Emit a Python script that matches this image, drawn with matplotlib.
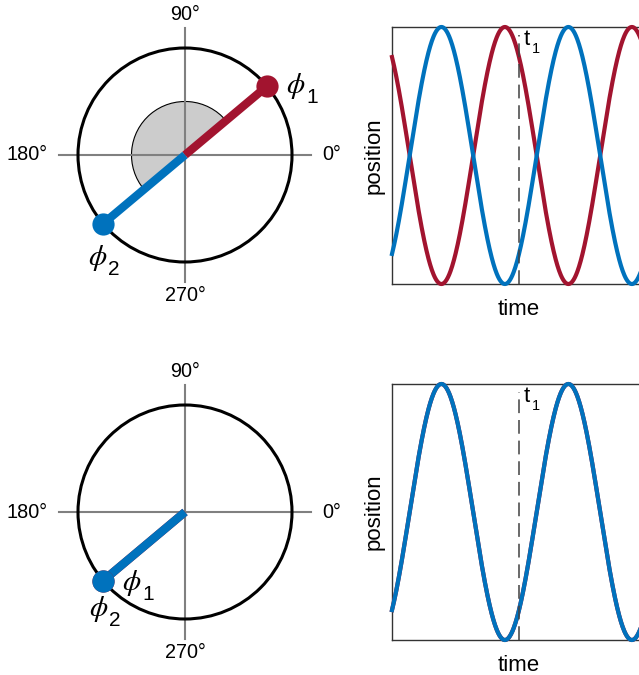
import numpy as np
import matplotlib
matplotlib.use("Agg")
import matplotlib.pyplot as plt
from matplotlib.patches import Circle, Wedge

plt.rcParams['font.family'] = ['Liberation Sans', 'DejaVu Sans']
plt.rcParams['mathtext.fontset'] = 'stix'

# phases (degrees) for the two oscillators, top and bottom rows
phase_top = [40, 220]      # phi_1, phi_2
phase_bottom = [220, 220]
n_periods = 2.0
t1 = 1.0                   # marked time, in periods

ring_labels = ['0°', '90°', '180°', '270°']

RED = '#a2142f'
BLUE = '#0072bd'
W, H = 639, 675
R_PX = 107.0  # circle radius in pixels


def px_axes(fig, x0, y0, x1, y1):
    # axes from pixel box (top-left origin)
    return fig.add_axes([x0 / W, (H - y1) / H, (x1 - x0) / W, (y1 - y0) / H])


def phase_label(ax, x, y, sub):
    ax.text(x, y, r'$\phi$', fontsize=21, ha='center', va='center')
    ax.annotate(sub, (x, y), xytext=(11.5, -8), textcoords='offset points',
                fontsize=15, ha='center', va='center')


def draw_circle(ax, cx, cy, x0, y0, x1, y1, phases, wedge, labels):
    ax.set_xlim((x0 - cx) / R_PX, (x1 - cx) / R_PX)
    ax.set_ylim((cy - y1) / R_PX, (cy - y0) / R_PX)
    ax.axis('off')
    if wedge:
        ax.add_patch(Wedge((0, 0), 0.5, phases[0], phases[1], fc='#cccccc',
                           ec='black', lw=0.8, zorder=1))
    ax.plot([-1.175, 1.175], [0, 0], color='#808080', lw=1.5, zorder=2)
    ax.plot([0, 0], [-1.19, 1.19], color='#808080', lw=1.5, zorder=2)
    ax.add_patch(Circle((0, 0), 1, fill=False, ec='black', lw=2.2, zorder=3))
    for ph, c in zip(phases, [RED, BLUE]):
        a = np.deg2rad(ph)
        ax.plot([0, np.cos(a)], [0, np.sin(a)], color=c, lw=6,
                solid_capstyle='butt', zorder=4)
    for ph, c in zip(phases, [RED, BLUE]):
        a = np.deg2rad(ph)
        ax.plot(np.cos(a), np.sin(a), 'o', color=c, ms=16, mec='none', zorder=5)
    fs = 14.3
    ax.text(1.28, 0, ring_labels[0], fontsize=fs, ha='left', va='center')
    ax.text(0, 1.31, ring_labels[1], fontsize=fs, ha='center', va='center')
    ax.text(-1.285, 0, ring_labels[2], fontsize=fs, ha='right', va='center')
    ax.text(0, -1.31, ring_labels[3], fontsize=fs, ha='center', va='center')
    for (lx, ly), sub in zip(labels, ['1', '2']):
        phase_label(ax, lx, ly, sub)


def draw_wave(ax, phases):
    t = np.linspace(0, n_periods, 600)
    for ph, c in zip(phases, [RED, BLUE]):
        ax.plot(t, np.cos(2 * np.pi * t + np.deg2rad(ph)), color=c, lw=3,
                clip_on=False, zorder=3)
    ax.plot([t1, t1], [-1, 0.94], color='#404040', lw=1.1,
            linestyle=(0, (9, 4.5)), zorder=4)
    ax.text(t1 + 0.035, 0.985, 't', fontsize=16, ha='left', va='top')
    ax.text(t1 + 0.1, 0.885, '1', fontsize=10.5, ha='left', va='top')
    ax.set_xlim(0, n_periods)
    ax.set_ylim(-1, 1)
    ax.set_xticks([])
    ax.set_yticks([])
    for s in ax.spines.values():
        s.set_color('#333333')
        s.set_linewidth(1.0)
    ax.set_xlabel('time', fontsize=16, labelpad=11)
    ax.set_ylabel('position', fontsize=16, labelpad=5)


fig = plt.figure(figsize=(W / 100, H / 100), dpi=100)

# top row
ax = px_axes(fig, 0, 0, 360, 330)
draw_circle(ax, 185, 155, 0, 0, 360, 330, phase_top, True,
            [((296 - 185) / R_PX, (155 - 86) / R_PX),
             ((98 - 185) / R_PX, (155 - 258) / R_PX)])
ax = px_axes(fig, 392, 27, 646, 284)
draw_wave(ax, phase_top)

# bottom row
ax = px_axes(fig, 0, 340, 360, 675)
draw_circle(ax, 185, 512, 0, 340, 360, 675, phase_bottom, False,
            [((132 - 185) / R_PX, (512 - 583) / R_PX),
             ((99 - 185) / R_PX, (512 - 609) / R_PX)])
ax = px_axes(fig, 392, 384, 646, 640)
draw_wave(ax, phase_bottom)

fig.savefig('out.png', dpi=100)
